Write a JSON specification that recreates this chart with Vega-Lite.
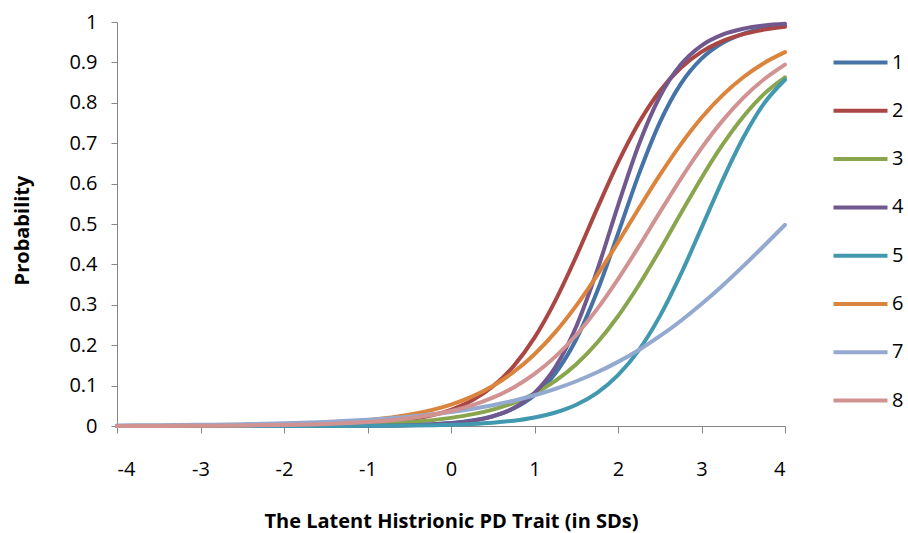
{
"$schema":"https://vega.github.io/schema/vega-lite/v6.json",
"width":668,"height":404,
"autosize":{"type":"none"},
"padding":{"left":117,"top":22,"right":123,"bottom":107},
"background":"white",
"config":{"view":{"stroke":null},"font":"Open Sans"},
"data":{"values":[
{"item":"1","theta":-4,"p":0},{"item":"1","theta":-3.5,"p":0},{"item":"1","theta":-3,"p":0},{"item":"1","theta":-2.5,"p":0},{"item":"1","theta":-2,"p":0.0001},{"item":"1","theta":-1.5,"p":0.0002},{"item":"1","theta":-1,"p":0.0007},{"item":"1","theta":-0.5,"p":0.0022},{"item":"1","theta":0,"p":0.0074},{"item":"1","theta":0.25,"p":0.0134},{"item":"1","theta":0.5,"p":0.0242},{"item":"1","theta":0.75,"p":0.0433},{"item":"1","theta":1,"p":0.0761},{"item":"1","theta":1.25,"p":0.1306},{"item":"1","theta":1.5,"p":0.2148},{"item":"1","theta":1.75,"p":0.3327},{"item":"1","theta":2,"p":0.476},{"item":"1","theta":2.25,"p":0.6234},{"item":"1","theta":2.5,"p":0.751},{"item":"1","theta":2.75,"p":0.8461},{"item":"1","theta":3,"p":0.9092},{"item":"1","theta":3.25,"p":0.9481},{"item":"1","theta":3.5,"p":0.9708},{"item":"1","theta":3.75,"p":0.9838},{"item":"1","theta":4,"p":0.991},
{"item":"2","theta":-4,"p":0},{"item":"2","theta":-3.5,"p":0.0001},{"item":"2","theta":-3,"p":0.0001},{"item":"2","theta":-2.5,"p":0.0004},{"item":"2","theta":-2,"p":0.0009},{"item":"2","theta":-1.5,"p":0.0024},{"item":"2","theta":-1,"p":0.0062},{"item":"2","theta":-0.5,"p":0.016},{"item":"2","theta":0,"p":0.0402},{"item":"2","theta":0.25,"p":0.0631},{"item":"2","theta":0.5,"p":0.0977},{"item":"2","theta":0.75,"p":0.1483},{"item":"2","theta":1,"p":0.2187},{"item":"2","theta":1.25,"p":0.3105},{"item":"2","theta":1.5,"p":0.4199},{"item":"2","theta":1.75,"p":0.5379},{"item":"2","theta":2,"p":0.6518},{"item":"2","theta":2.25,"p":0.7507},{"item":"2","theta":2.5,"p":0.8288},{"item":"2","theta":2.75,"p":0.8861},{"item":"2","theta":3,"p":0.926},{"item":"2","theta":3.25,"p":0.9527},{"item":"2","theta":3.5,"p":0.97},{"item":"2","theta":3.75,"p":0.9811},{"item":"2","theta":4,"p":0.9882},
{"item":"3","theta":-4,"p":0.0001},{"item":"3","theta":-3.5,"p":0.0001},{"item":"3","theta":-3,"p":0.0003},{"item":"3","theta":-2.5,"p":0.0005},{"item":"3","theta":-2,"p":0.0011},{"item":"3","theta":-1.5,"p":0.0023},{"item":"3","theta":-1,"p":0.0048},{"item":"3","theta":-0.5,"p":0.0098},{"item":"3","theta":0,"p":0.0201},{"item":"3","theta":0.25,"p":0.0287},{"item":"3","theta":0.5,"p":0.0407},{"item":"3","theta":0.75,"p":0.0574},{"item":"3","theta":1,"p":0.0805},{"item":"3","theta":1.25,"p":0.1117},{"item":"3","theta":1.5,"p":0.153},{"item":"3","theta":1.75,"p":0.2061},{"item":"3","theta":2,"p":0.2717},{"item":"3","theta":2.25,"p":0.349},{"item":"3","theta":2.5,"p":0.4351},{"item":"3","theta":2.75,"p":0.5254},{"item":"3","theta":3,"p":0.614},{"item":"3","theta":3.25,"p":0.6956},{"item":"3","theta":3.5,"p":0.7656},{"item":"3","theta":3.75,"p":0.822},{"item":"3","theta":4,"p":0.863},
{"item":"4","theta":-4,"p":0},{"item":"4","theta":-3.5,"p":0},{"item":"4","theta":-3,"p":0},{"item":"4","theta":-2.5,"p":0},{"item":"4","theta":-2,"p":0},{"item":"4","theta":-1.5,"p":0.0001},{"item":"4","theta":-1,"p":0.0005},{"item":"4","theta":-0.5,"p":0.0018},{"item":"4","theta":0,"p":0.0066},{"item":"4","theta":0.25,"p":0.0125},{"item":"4","theta":0.5,"p":0.0237},{"item":"4","theta":0.75,"p":0.0444},{"item":"4","theta":1,"p":0.0818},{"item":"4","theta":1.25,"p":0.1458},{"item":"4","theta":1.5,"p":0.2464},{"item":"4","theta":1.75,"p":0.3851},{"item":"4","theta":2,"p":0.5454},{"item":"4","theta":2.25,"p":0.6968},{"item":"4","theta":2.5,"p":0.8149},{"item":"4","theta":2.75,"p":0.894},{"item":"4","theta":3,"p":0.9417},{"item":"4","theta":3.25,"p":0.9687},{"item":"4","theta":3.5,"p":0.9834},{"item":"4","theta":3.75,"p":0.9913},{"item":"4","theta":4,"p":0.9954},
{"item":"5","theta":-4,"p":0},{"item":"5","theta":-3.5,"p":0},{"item":"5","theta":-3,"p":0},{"item":"5","theta":-2.5,"p":0},{"item":"5","theta":-2,"p":0.0001},{"item":"5","theta":-1.5,"p":0.0002},{"item":"5","theta":-1,"p":0.0005},{"item":"5","theta":-0.5,"p":0.0012},{"item":"5","theta":0,"p":0.0032},{"item":"5","theta":0.25,"p":0.0052},{"item":"5","theta":0.5,"p":0.0083},{"item":"5","theta":0.75,"p":0.0132},{"item":"5","theta":1,"p":0.0211},{"item":"5","theta":1.25,"p":0.0335},{"item":"5","theta":1.5,"p":0.0527},{"item":"5","theta":1.75,"p":0.0822},{"item":"5","theta":2,"p":0.1259},{"item":"5","theta":2.25,"p":0.188},{"item":"5","theta":2.5,"p":0.2713},{"item":"5","theta":2.75,"p":0.3745},{"item":"5","theta":3,"p":0.4905},{"item":"5","theta":3.25,"p":0.6075},{"item":"5","theta":3.5,"p":0.7134},{"item":"5","theta":3.75,"p":0.7985},{"item":"5","theta":4,"p":0.857},
{"item":"6","theta":-4,"p":0.0003},{"item":"6","theta":-3.5,"p":0.0005},{"item":"6","theta":-3,"p":0.001},{"item":"6","theta":-2.5,"p":0.0019},{"item":"6","theta":-2,"p":0.0038},{"item":"6","theta":-1.5,"p":0.0073},{"item":"6","theta":-1,"p":0.0143},{"item":"6","theta":-0.5,"p":0.0277},{"item":"6","theta":0,"p":0.053},{"item":"6","theta":0.25,"p":0.0728},{"item":"6","theta":0.5,"p":0.0991},{"item":"6","theta":0.75,"p":0.1336},{"item":"6","theta":1,"p":0.1777},{"item":"6","theta":1.25,"p":0.2324},{"item":"6","theta":1.5,"p":0.2979},{"item":"6","theta":1.75,"p":0.3729},{"item":"6","theta":2,"p":0.4546},{"item":"6","theta":2.25,"p":0.5388},{"item":"6","theta":2.5,"p":0.6208},{"item":"6","theta":2.75,"p":0.6964},{"item":"6","theta":3,"p":0.7628},{"item":"6","theta":3.25,"p":0.8183},{"item":"6","theta":3.5,"p":0.8633},{"item":"6","theta":3.75,"p":0.8985},{"item":"6","theta":4,"p":0.9254},
{"item":"7","theta":-4,"p":0.0013},{"item":"7","theta":-3.5,"p":0.002},{"item":"7","theta":-3,"p":0.003},{"item":"7","theta":-2.5,"p":0.0045},{"item":"7","theta":-2,"p":0.0068},{"item":"7","theta":-1.5,"p":0.0102},{"item":"7","theta":-1,"p":0.0154},{"item":"7","theta":-0.5,"p":0.0231},{"item":"7","theta":0,"p":0.0346},{"item":"7","theta":0.25,"p":0.0423},{"item":"7","theta":0.5,"p":0.0515},{"item":"7","theta":0.75,"p":0.0626},{"item":"7","theta":1,"p":0.076},{"item":"7","theta":1.25,"p":0.0919},{"item":"7","theta":1.5,"p":0.1108},{"item":"7","theta":1.75,"p":0.1329},{"item":"7","theta":2,"p":0.1587},{"item":"7","theta":2.25,"p":0.1883},{"item":"7","theta":2.5,"p":0.2222},{"item":"7","theta":2.75,"p":0.26},{"item":"7","theta":3,"p":0.3019},{"item":"7","theta":3.25,"p":0.3473},{"item":"7","theta":3.5,"p":0.3957},{"item":"7","theta":3.75,"p":0.4462},{"item":"7","theta":4,"p":0.4979},
{"item":"8","theta":-4,"p":0.0002},{"item":"8","theta":-3.5,"p":0.0003},{"item":"8","theta":-3,"p":0.0007},{"item":"8","theta":-2.5,"p":0.0013},{"item":"8","theta":-2,"p":0.0026},{"item":"8","theta":-1.5,"p":0.005},{"item":"8","theta":-1,"p":0.0098},{"item":"8","theta":-0.5,"p":0.0192},{"item":"8","theta":0,"p":0.037},{"item":"8","theta":0.25,"p":0.051},{"item":"8","theta":0.5,"p":0.0701},{"item":"8","theta":0.75,"p":0.0955},{"item":"8","theta":1,"p":0.129},{"item":"8","theta":1.25,"p":0.1718},{"item":"8","theta":1.5,"p":0.2253},{"item":"8","theta":1.75,"p":0.2894},{"item":"8","theta":2,"p":0.3635},{"item":"8","theta":2.25,"p":0.4445},{"item":"8","theta":2.5,"p":0.5287},{"item":"8","theta":2.75,"p":0.6112},{"item":"8","theta":3,"p":0.6879},{"item":"8","theta":3.25,"p":0.7553},{"item":"8","theta":3.5,"p":0.8123},{"item":"8","theta":3.75,"p":0.8584},{"item":"8","theta":4,"p":0.8947}
]},
"mark":{"type":"line","strokeWidth":4,"interpolate":"monotone","strokeCap":"round","strokeJoin":"round"},
"encoding":{
"x":{"field":"theta","type":"quantitative","scale":{"domain":[-4,4],"nice":false,"zero":false},
 "axis":{"values":[-4,-3,-2,-1,0,1,2,3,4],"labelExpr":"'' + datum.value","grid":false,"domainColor":"#868686","domainWidth":1,"tickColor":"#868686","tickSize":7,"labelPadding":26,"labelFontSize":20,"labelColor":"#000000","labelFont":"Open Sans","title":"The Latent Histrionic PD Trait (in SDs)","titleFontSize":20,"titleFontWeight":"bold","titleColor":"#000000","titleFont":"Open Sans","titleX":334,"titleY":95,"titleBaseline":"middle","titleAlign":"center"}},
"y":{"field":"p","type":"quantitative","scale":{"domain":[0,1],"nice":false},
 "axis":{"values":[0,0.1,0.2,0.3,0.4,0.5,0.6,0.7,0.8,0.9,1],"format":"~g","grid":false,"domainColor":"#868686","domainWidth":1,"tickColor":"#868686","tickSize":6,"labelPadding":14,"labelFontSize":20,"labelColor":"#000000","labelFont":"Open Sans","title":"Probability","titleFontSize":20,"titleFontWeight":"bold","titleColor":"#000000","titleFont":"Open Sans","titleX":-95,"titleY":208,"titleAngle":-90,"titleBaseline":"middle","titleAlign":"center"}},
"color":{"field":"item","type":"nominal","scale":{"domain":["1","2","3","4","5","6","7","8"],"range":["#4572A7","#AA4643","#89A54E","#71588F","#4198AF","#DB843D","#93A9CF","#D19392"]},
 "legend":{"title":null,"orient":"none","legendX":728,"legendY":25,"symbolType":"M-2,0H2","symbolSize":729,"symbolStrokeWidth":4,"labelFontSize":20,"labelFont":"Open Sans","labelColor":"#000000","labelOffset":16,"rowPadding":22.3,"padding":0}}
}
}
